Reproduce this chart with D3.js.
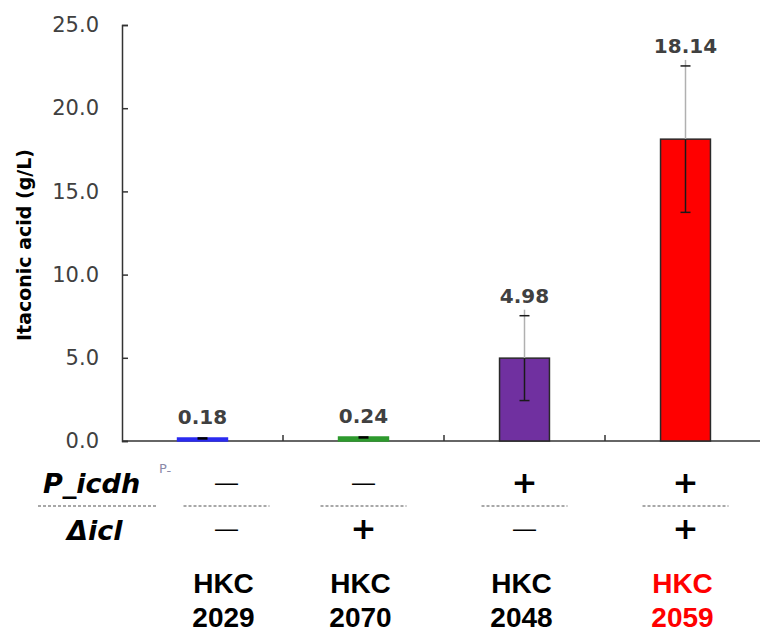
<!DOCTYPE html>
<html>
<head>
<meta charset="utf-8">
<script src="https://cdn.jsdelivr.net/npm/d3@7/dist/d3.min.js"></script>
<style>
  html, body { margin: 0; padding: 0; background: #ffffff; }
  svg { display: block; }
</style>
</head>
<body>
<svg id="chart" width="760" height="634"></svg>
<script>
// Itaconic acid titres per strain (g/L), with standard deviations
const strains   = ["HKC 2029", "HKC 2070", "HKC 2048", "HKC 2059"];
const titres    = [0.18, 0.24, 4.98, 18.14];
const titreSD   = [0.05, 0.05, 2.55, 4.40];
const barColors = ["#2b2bf0", "#2e9a2e", "#7030a0", "#ff0000"];
const nameColors = ["#000000", "#000000", "#000000", "#ff0000"];
// genotype table: promoter swap on icdh, deletion of icl
const pIcdh     = ["—", "—", "+", "+"];
const deltaIcl  = ["—", "+", "—", "+"];
const yTicks    = [0, 5, 10, 15, 20, 25];

const svg = d3.select("#chart");
const axisColor = "#333333";
const tickTextColor = "#404040";

const x = d3.scaleBand()
  .domain(strains)
  .range([122, 766])
  .paddingInner(0.69)
  .paddingOuter(0.345);

const y = d3.scaleLinear().domain([0, 25]).range([441, 25]);

const bw = x.bandwidth();
const cx = s => x(s) + bw / 2;

// y axis
const yAxis = d3.axisLeft(y)
  .tickValues(yTicks)
  .tickFormat(d3.format(".1f"))
  .tickSize(-6)
  .tickPadding(23);

const gy = svg.append("g").attr("transform", "translate(122,0)").call(yAxis);
gy.select(".domain").attr("stroke", axisColor).attr("stroke-width", 1.5);
gy.selectAll(".tick line").attr("stroke", axisColor).attr("stroke-width", 1.5);
gy.selectAll(".tick text")
  .attr("fill", tickTextColor)
  .attr("font-family", "DejaVu Sans, sans-serif")
  .attr("font-size", 21);

// x axis with ticks between categories
const boundaries = strains.slice(1).map(s => x(s) - x.step() * x.paddingInner() / 2);
const gx = svg.append("g").attr("transform", "translate(0,441)");
gx.append("line")
  .attr("x1", 122).attr("x2", 760)
  .attr("stroke", axisColor).attr("stroke-width", 1.5);
gx.selectAll("line.tk").data(boundaries).join("line")
  .attr("class", "tk")
  .attr("x1", d => d).attr("x2", d => d)
  .attr("y1", 0).attr("y2", -6)
  .attr("stroke", axisColor).attr("stroke-width", 1.5);

// axis title
svg.append("text")
  .attr("transform", "translate(31,245) rotate(-90)")
  .attr("text-anchor", "middle")
  .attr("font-family", "DejaVu Sans, sans-serif")
  .attr("font-weight", "bold")
  .attr("font-size", 19)
  .attr("fill", "#000")
  .text("Itaconic acid (g/L)");

// bars
svg.selectAll("rect.bar").data(strains).join("rect")
  .attr("class", "bar")
  .attr("x", s => x(s))
  .attr("width", bw)
  .attr("y", (s, i) => y(titres[i]))
  .attr("height", (s, i) => y(0) - y(titres[i]))
  .attr("fill", (s, i) => barColors[i])
  .attr("stroke", (s, i) => titres[i] > 1 ? "#2a2a2a" : barColors[i])
  .attr("stroke-width", 1.5);

// error bars: part above the bar in light grey, part inside the bar dark
const capW = 10;
strains.forEach((s, i) => {
  const c = cx(s);
  const top = y(titres[i] + titreSD[i]);
  const mid = y(titres[i]);
  const bot = y(Math.max(0, titres[i] - titreSD[i]));
  const g = svg.append("g");
  if (titres[i] > 1) {
    g.append("line").attr("x1", c).attr("x2", c).attr("y1", top - 6).attr("y2", mid)
      .attr("stroke", "#b0b0b0").attr("stroke-width", 1.5);
    g.append("line").attr("x1", c).attr("x2", c).attr("y1", mid).attr("y2", bot)
      .attr("stroke", "#1a1a1a").attr("stroke-width", 1.5);
    [top, bot].forEach(v => g.append("line")
      .attr("x1", c - capW / 2).attr("x2", c + capW / 2).attr("y1", v).attr("y2", v)
      .attr("stroke", "#1a1a1a").attr("stroke-width", 1.5));
  } else {
    g.append("rect")
      .attr("x", c - capW / 2).attr("width", capW)
      .attr("y", top).attr("height", Math.max(2.5, bot - top))
      .attr("fill", "#000");
  }
});

// value labels
svg.selectAll("text.val").data(strains).join("text")
  .attr("class", "val")
  .attr("x", s => cx(s))
  .attr("y", (s, i) => y(titres[i] + titreSD[i]) - 13)
  .attr("text-anchor", "middle")
  .attr("font-family", "DejaVu Sans, sans-serif")
  .attr("font-weight", "bold")
  .attr("font-size", 20)
  .attr("fill", "#404040")
  .text((s, i) => titres[i].toFixed(2));

// genotype table under the axis
const colX = (s, i) => cx(s) + (i === 0 ? 24 : 0);
const rowTop = 482, rowBottom = 528, sepY = 506;

svg.append("text")
  .attr("x", 43).attr("y", 493)
  .attr("font-family", "DejaVu Sans, sans-serif")
  .attr("font-weight", "bold").attr("font-style", "italic")
  .attr("font-size", 27).attr("fill", "#000")
  .text("P_icdh");
svg.append("text")
  .attr("x", 67).attr("y", 540)
  .attr("font-family", "DejaVu Sans, sans-serif")
  .attr("font-weight", "bold").attr("font-style", "italic")
  .attr("font-size", 27).attr("fill", "#000")
  .text("Δicl");

const smallP = svg.append("text")
  .attr("x", 159).attr("y", 473)
  .attr("font-family", "DejaVu Sans, sans-serif")
  .attr("font-size", 13).attr("fill", "#8a8aa8");
smallP.append("tspan").text("P");
smallP.append("tspan").attr("dy", 2).text("-");

// dashed separators
const sepSegments = [[38, 158]].concat(strains.map((s, i) => [colX(s, i) - 43, colX(s, i) + 43]));
svg.selectAll("line.sep").data(sepSegments).join("line")
  .attr("class", "sep")
  .attr("x1", d => d[0]).attr("x2", d => d[1])
  .attr("y1", sepY).attr("y2", sepY)
  .attr("stroke", "#8c8c8c").attr("stroke-width", 1.5)
  .attr("stroke-dasharray", "3,2");

function signCell(sign, xPos, yMid) {
  const t = svg.append("text")
    .attr("x", xPos)
    .attr("text-anchor", "middle")
    .attr("dominant-baseline", "central")
    .attr("fill", "#000");
  if (sign === "+") {
    t.attr("y", yMid).attr("font-family", "DejaVu Sans, sans-serif")
      .attr("font-weight", "bold").attr("font-size", 31).text("+");
  } else {
    t.attr("y", yMid).attr("font-family", "Liberation Sans, sans-serif")
      .attr("font-size", 23).text("—");
  }
}
strains.forEach((s, i) => {
  signCell(pIcdh[i], colX(s, i), rowTop);
  signCell(deltaIcl[i], colX(s, i), rowBottom);
});

// strain names
strains.forEach((s, i) => {
  const parts = s.split(" ");
  const t = svg.append("text")
    .attr("text-anchor", "middle")
    .attr("font-family", "Liberation Sans, Arial, sans-serif")
    .attr("font-weight", "bold")
    .attr("font-size", 28)
    .attr("fill", nameColors[i]);
  t.append("tspan").attr("x", colX(s, i) - 3).attr("y", 593).text(parts[0]);
  t.append("tspan").attr("x", colX(s, i) - 3).attr("y", 627).text(parts[1]);
});
</script>
</body>
</html>
